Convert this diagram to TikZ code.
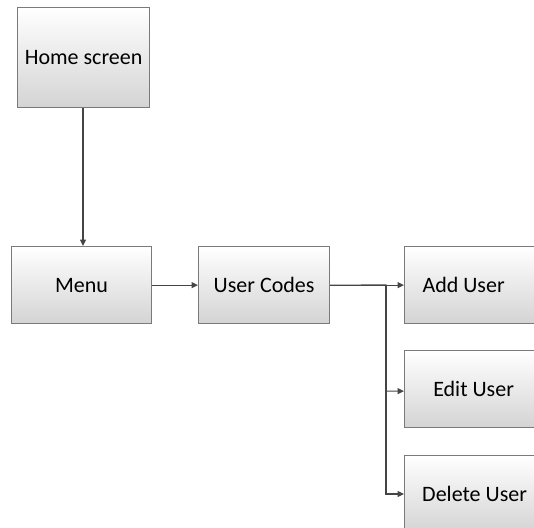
\documentclass[tikz,border=0pt]{standalone}
\usepackage{fontspec}
\setmainfont{Carlito}
\usetikzlibrary{arrows.meta}
\definecolor{boxline}{HTML}{7A7A7A}
\definecolor{conn}{HTML}{454545}
\begin{document}
\begin{tikzpicture}[x=1pt,y=-1pt,
  box/.style={draw=boxline, line width=1.2pt, top color=white, bottom color=black!17,
    inner sep=0pt, anchor=north west, font=\fontsize{22}{26}\selectfont, text=black},
  conn/.style={draw=conn, line width=1.1pt, -{Triangle[length=6.5pt,width=6pt]}}]
\useasboundingbox (0,0) rectangle (534,527);
\clip (0,0) rectangle (534,527);
\node[box, minimum width=132pt, minimum height=100pt] (home) at (17,7) {Home screen};
\node[box, minimum width=140pt, minimum height=77pt] (menu) at (11,246) {Menu};
\node[box, minimum width=131pt, minimum height=77pt] (codes) at (198,246) {User Codes};
\node[box, minimum width=140pt, minimum height=77pt] (add) at (404,246) {\hspace*{-22pt}Add User};
\node[box, minimum width=140pt, minimum height=77pt] (edit) at (404,350) {\hspace*{-2pt}Edit User};
\node[box, minimum width=140pt, minimum height=77pt] (del) at (404,455) {Delete User};
\coordinate (j) at (386,285);
\draw[conn] (home.south -| 83,0) -- (menu.north -| 83,0);
\draw[conn] (menu.east) -- (codes.west);
\draw[conn] (codes.east) -- (add.west);
\draw[conn] (codes.east) -- (j) |- ([yshift=-2pt]edit.west);
\draw[conn] (j) |- (del.west |- 0,494);
\end{tikzpicture}
\end{document}
